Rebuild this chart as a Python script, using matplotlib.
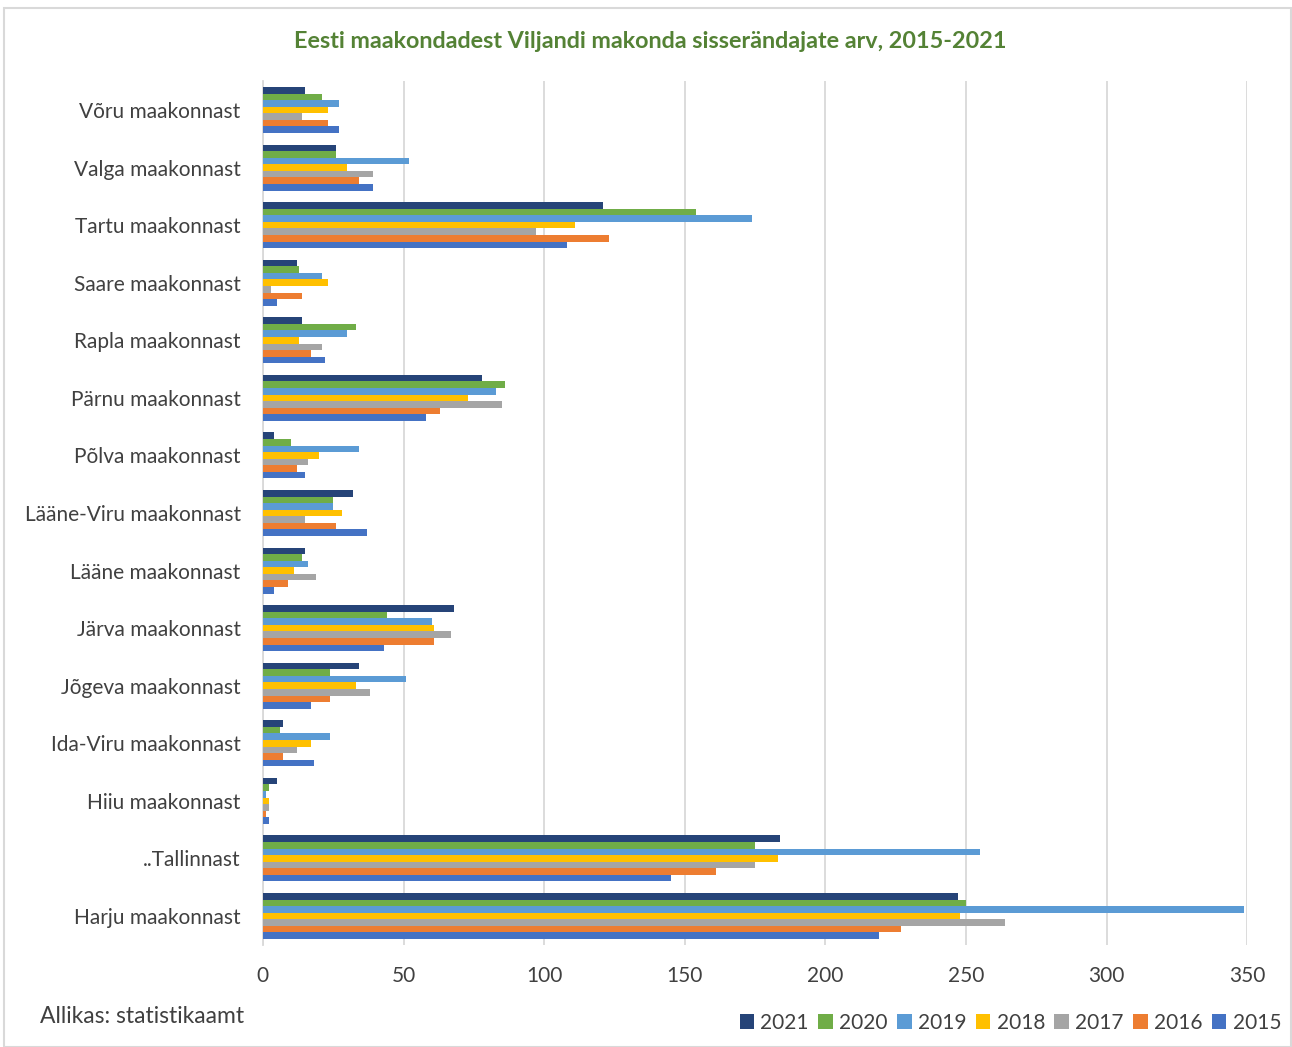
import numpy as np
import matplotlib
matplotlib.use('Agg')
from matplotlib import pyplot as plt
from matplotlib.patches import Rectangle

# maakonnad alt üles (Excel joonistab pööratult)
maakonnad = ['Harju maakonnast', '..Tallinnast', 'Hiiu maakonnast', 'Ida-Viru maakonnast',
             'Jõgeva maakonnast', 'Järva maakonnast', 'Lääne maakonnast',
             'Lääne-Viru maakonnast', 'Põlva maakonnast', 'Pärnu maakonnast',
             'Rapla maakonnast', 'Saare maakonnast', 'Tartu maakonnast',
             'Valga maakonnast', 'Võru maakonnast']

aastad = ['2015', '2016', '2017', '2018', '2019', '2020', '2021']

v2015 = [219, 145, 2, 18, 17, 43, 4, 37, 15, 58, 22, 5, 108, 39, 27]
v2016 = [227, 161, 1, 7, 24, 61, 9, 26, 12, 63, 17, 14, 123, 34, 23]
v2017 = [264, 175, 2, 12, 38, 67, 19, 15, 16, 85, 21, 3, 97, 39, 14]
v2018 = [248, 183, 2, 17, 33, 61, 11, 28, 20, 73, 13, 23, 111, 30, 23]
v2019 = [349, 255, 1, 24, 51, 60, 16, 25, 34, 83, 30, 21, 174, 52, 27]
v2020 = [250, 175, 2, 6, 24, 44, 14, 25, 10, 86, 33, 13, 154, 26, 21]
v2021 = [247, 184, 5, 7, 34, 68, 15, 32, 4, 78, 14, 12, 121, 26, 15]

seeriad = [v2015, v2016, v2017, v2018, v2019, v2020, v2021]
varvid = ['#4472C4', '#ED7D31', '#A5A5A5', '#FFC000', '#5B9BD5', '#70AD47', '#264478']

plt.rcParams['font.family'] = ['Lato', 'DejaVu Sans']

fig = plt.figure(figsize=(12.92, 10.47), dpi=100)
ax = fig.add_axes([0.2035, 0.0976, 0.7618, 0.8248])

# hall raam ümber joonise
fig.patches.append(Rectangle((0.003, 0.0), 0.996, 0.992, transform=fig.transFigure,
                             fill=False, edgecolor='#D9D9D9', linewidth=1.5))

y = np.arange(len(maakonnad))
kõrgus = 0.8 / 7
for i, (vals, col) in enumerate(zip(seeriad, varvid)):
    nihe = (i - 3) * kõrgus
    ax.barh(y + nihe, vals, height=kõrgus, color=col, label=aastad[i], zorder=3)

ax.set_xlim(0, 350)
ax.set_ylim(-0.5, len(maakonnad) - 0.5)
ax.set_xticks(np.arange(0, 351, 50))
ax.set_yticks(y)
ax.set_yticklabels(maakonnad)
ax.grid(axis='x', color='#D9D9D9', linewidth=1.3, zorder=0)
ax.tick_params(axis='both', length=0, labelsize=15, colors='#404040')
ax.tick_params(axis='x', pad=15)
ax.tick_params(axis='y', pad=16)
for s in ['top', 'right', 'bottom']:
    ax.spines[s].set_visible(False)
ax.spines['left'].set_color('#D9D9D9')
ax.spines['left'].set_linewidth(1.3)

fig.text(0.503, 0.96, 'Eesti maakondadest Viljandi makonda sisserändajate arv, 2015-2021',
         ha='center', va='center', fontsize=16.8, fontweight='bold', color='#548235')

fig.text(0.031, 0.029, 'Allikas: statistikaamt', ha='left', va='center',
         fontsize=16.5, color='#404040')

h, l = ax.get_legend_handles_labels()
leg = fig.legend(h[::-1], l[::-1], loc='center right', bbox_to_anchor=(1.006, 0.023),
                 ncol=7, frameon=False, fontsize=15, handlelength=0.7, handleheight=0.7,
                 handletextpad=0.3, columnspacing=0.45, labelcolor='#404040')

plt.savefig('out.png', dpi=100)
